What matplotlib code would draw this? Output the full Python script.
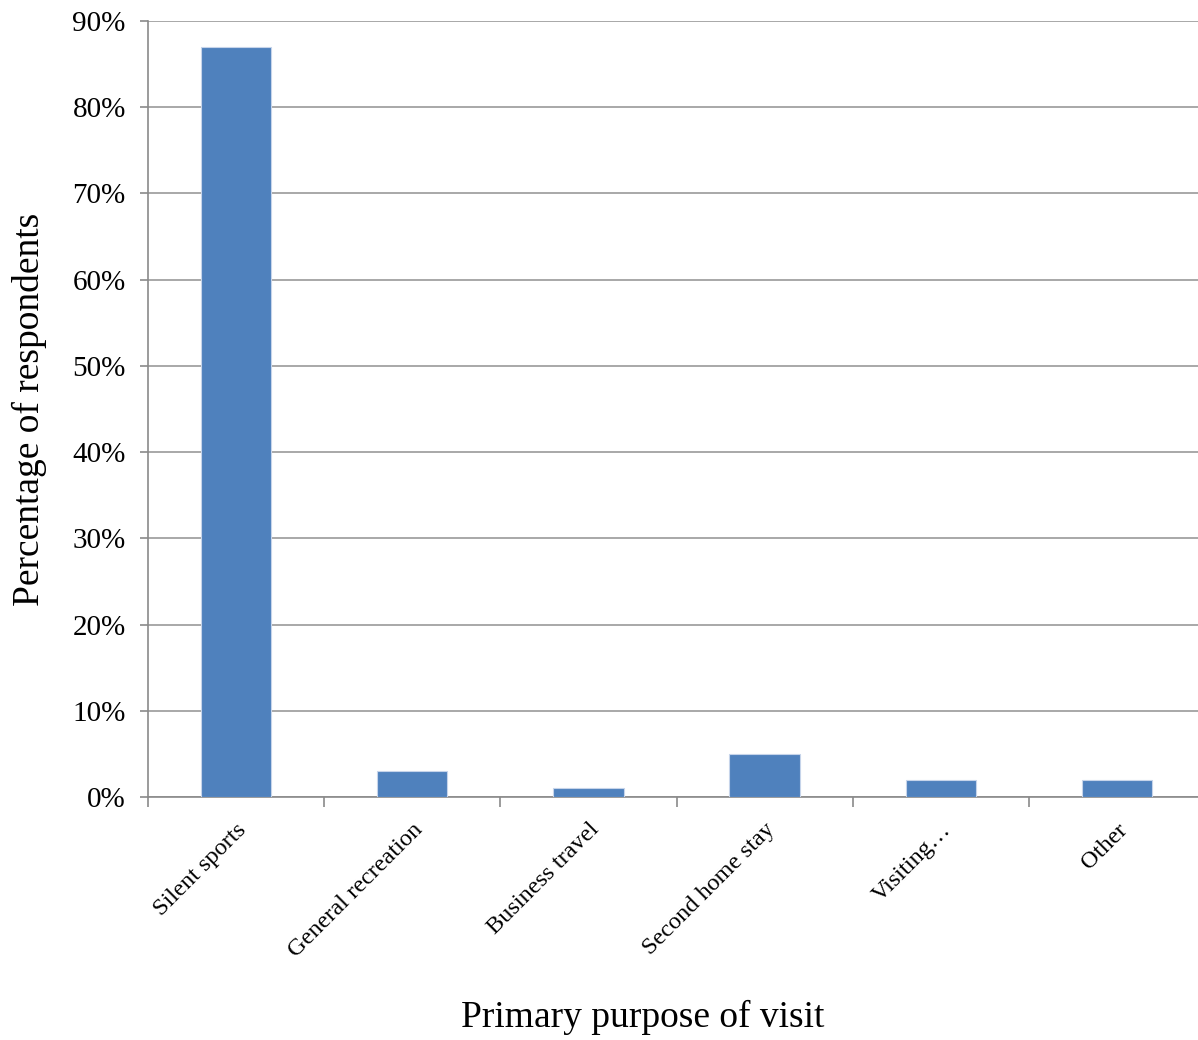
import numpy as np
import matplotlib
matplotlib.use("Agg")
import matplotlib.pyplot as plt
from matplotlib.ticker import PercentFormatter

# values
categories = ["Silent sports", "General recreation", "Business travel",
              "Second home stay", "Visiting\u2026", "Other"]
percent = [87, 3, 1, 5, 2, 2]
yticks = [0, 10, 20, 30, 40, 50, 60, 70, 80, 90]

plt.rcParams['font.family'] = ['Liberation Serif', 'DejaVu Serif']

fig = plt.figure(figsize=(11.98, 10.4), dpi=100)
# plot area runs a little past the right edge of the image, as in the reference
ax = fig.add_axes([148 / 1198, 243 / 1040, 1057 / 1198, 776 / 1040])

x = np.arange(len(categories))
ax.bar(x, percent, width=0.4, color='#4f81bd', edgecolor='#c6d4ea',
       linewidth=0.8, zorder=3)

ax.set_xlim(-0.5, len(categories) - 0.5)
ax.set_ylim(0, 90)
ax.set_yticks(yticks)
ax.yaxis.set_major_formatter(PercentFormatter(decimals=0))
ax.grid(axis='y', color='#9a9a9a', linewidth=1.2, zorder=0)

# x ticks sit between categories, labels at category centres
ax.set_xticks(np.arange(len(categories) + 1) - 0.5)
ax.set_xticklabels([])
ax.set_xticks(x, minor=True)
ax.set_xticklabels(categories, minor=True, rotation=45, ha='right',
                   va='top', rotation_mode='anchor', fontsize=17.5)
ax.tick_params(axis='x', which='minor', length=0, pad=16)
ax.tick_params(axis='x', which='major', length=7, color='#8a8a8a', width=1.2)
ax.tick_params(axis='y', length=6, color='#8a8a8a', width=1.2,
               labelsize=21, pad=10)

for side in ['top', 'right']:
    ax.spines[side].set_visible(False)
for side in ['left', 'bottom']:
    ax.spines[side].set_color('#8a8a8a')
    ax.spines[side].set_linewidth(1.2)

ax.set_ylabel("Percentage of respondents", fontsize=27, labelpad=18)
ax.set_xlabel("Primary purpose of visit", fontsize=27)
ax.xaxis.set_label_coords(0.468, -0.262)

fig.savefig("out.png", dpi=100)
